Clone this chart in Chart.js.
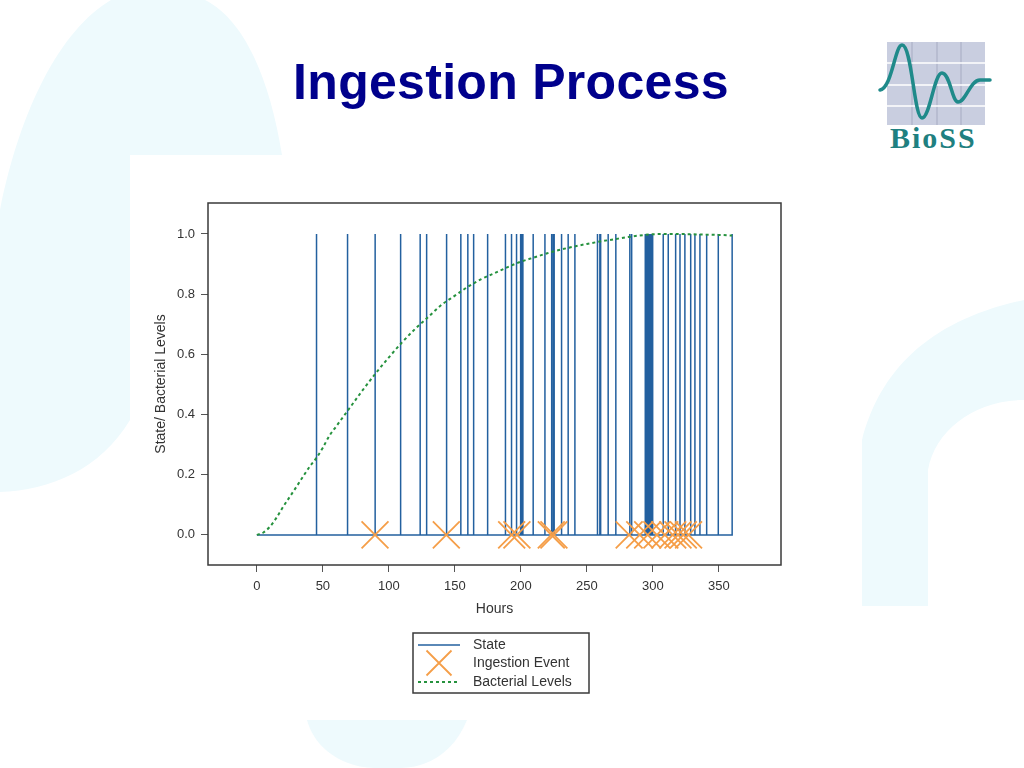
<!DOCTYPE html>
<html>
<head>
<meta charset="utf-8">
<title>Ingestion Process</title>
<script src="https://cdn.jsdelivr.net/npm/chart.js@4.4.0/dist/chart.umd.min.js"></script>
<style>
    html, body { margin: 0; padding: 0; background: #fff; }
    #page { position: relative; width: 1024px; height: 768px; overflow: hidden; }
    #bg, #logo { position: absolute; left: 0; top: 0; }
    h1 {
        position: absolute; left: 0; top: 57px; width: 1022px; margin: 0;
        text-align: center; font: bold 50px/50px "Liberation Sans", Arial, sans-serif;
        letter-spacing: 0.3px; color: #00008c;
    }
    #chart { position: absolute; left: 0; top: 0; }
</style>
</head>
<body>
<div id="page">
    <!-- slide background shapes -->
    <svg id="bg" width="1024" height="768">
        <g fill="#eefafd">
            <path d="M111 0 L205 0 C245 20 270 80 282 155 L130 155 L130 420 C100 470 50 490 0 492 L0 210 C20 110 60 30 111 0 Z"/>
            <path d="M862 606 L862 440 C880 370 930 320 1024 300 L1024 400 C975 400 935 430 928 470 L928 606 Z"/>
            <path d="M307 720 L467 720 C455 750 430 768 400 768 L375 768 C345 768 315 750 307 720 Z"/>
        </g>
    </svg>
    <!-- BioSS logo -->
    <svg id="logo" width="1024" height="768">
        <rect x="887" y="42" width="98" height="83" fill="#c9cee0"/>
        <g stroke="#a6abc2" stroke-width="1">
            <line x1="912" y1="42" x2="912" y2="125"/>
            <line x1="937" y1="42" x2="937" y2="125"/>
            <line x1="961" y1="42" x2="961" y2="125"/>
        </g>
        <g stroke="#ffffff" stroke-width="1.5">
            <line x1="887" y1="63" x2="985" y2="63"/>
            <line x1="887" y1="85" x2="985" y2="85"/>
            <line x1="887" y1="106" x2="985" y2="106"/>
        </g>
        <path d="M880 90 C892 88 895 45 902 45 C912 45 914 118 922 118 C930 118 934 73 942 73 C950 73 952 102 958 102 C966 102 970 80 980 80 L990 80"
              fill="none" stroke="#1f8a8a" stroke-width="3.5" stroke-linecap="round"/>
        <text x="890" y="148" font-family="Liberation Serif, Times New Roman, serif" font-weight="bold"
              font-size="30" letter-spacing="2" fill="#1f8080">BioSS</text>
    </svg>
    <h1>Ingestion Process</h1>
    <canvas id="chart" width="1024" height="768"></canvas>
</div>

<script>
// Axis ticks
const xTickValues = [0, 50, 100, 150, 200, 250, 300, 350];
const yTickValues = [0.0, 0.2, 0.4, 0.6, 0.8, 1.0];

// Hours at which the state switches to 1 (vertical lines)
const stateSwitchHours = [45.2, 68.7, 89.6, 108.9, 123.7, 128.6, 143.3, 144.0, 154.5, 159.8,
    164.2, 174.8, 188.3, 192.9, 196.7, 199.8, 200.8, 201.5, 209.3, 218.2, 223.3, 224.5, 225.2,
    230.8, 235.8, 240.9, 258.0, 259.8, 260.4, 266.1, 271.9, 282.5, 283.9, 294.2, 295.0, 295.8,
    296.6, 297.4, 298.2, 299.0, 299.8, 307.8, 311.6, 317.2, 320.5, 324.2, 328.6, 331.8, 335.6,
    340.7, 349.5, 360.0];
const stateStartHour = 0;
const stateEndHour = 360;

// Ingestion events (crosses on the zero line)
const ingestionHours = [89.5, 143.5, 193, 197, 223, 225, 282, 290, 296, 303, 309, 315, 319, 323, 327];

// Bacterial levels curve
const bacteriaHours = [0, 5, 10, 15, 20, 25, 30, 35, 40, 45, 50, 55, 60, 70, 80, 90, 100, 110,
    120, 130, 140, 150, 160, 170, 180, 190, 200, 210, 220, 230, 240, 250, 260, 270, 280, 290,
    300, 310, 320, 330, 340, 350, 360];
const bacteriaLevels = [0, 0.008, 0.028, 0.058, 0.094, 0.127, 0.16, 0.194, 0.227, 0.255, 0.29,
    0.33, 0.36, 0.42, 0.48, 0.537, 0.59, 0.64, 0.685, 0.725, 0.765, 0.795, 0.825, 0.85, 0.87,
    0.89, 0.908, 0.922, 0.936, 0.948, 0.958, 0.967, 0.975, 0.982, 0.989, 0.995, 0.999, 1.0, 1.0,
    0.999, 0.998, 0.997, 0.995];

const FONT = '"Liberation Sans", Arial, sans-serif';
const STATE_COLOR = '#23609f';
const EVENT_COLOR = 'rgb(245, 158, 72)';
const BACTERIA_COLOR = 'rgb(38, 146, 62)';

/**
 * Build the step-like state path: 0 everywhere, spikes to 1 at each switch
 */
function buildStatePoints() {
    const pts = [{ x: stateStartHour, y: 0 }];
    stateSwitchHours.forEach(h => {
        pts.push({ x: h, y: 0 }, { x: h, y: 1 }, { x: h, y: 0 });
    });
    pts.push({ x: stateEndHour, y: 0 });
    return pts;
}

// Frame around the plot area
const framePlugin = {
    id: 'frame',
    afterDraw(chart) {
        const a = chart.chartArea;
        const ctx = chart.ctx;
        ctx.save();
        ctx.strokeStyle = '#3a3a3a';
        ctx.lineWidth = 1.5;
        ctx.strokeRect(a.left, a.top, a.right - a.left, a.bottom - a.top);
        ctx.restore();
    }
};

// Boxed legend under the chart, like the original figure
const boxLegendPlugin = {
    id: 'boxLegend',
    afterDraw(chart) {
        const ctx = chart.ctx;
        const bx = 413, by = 633, bw = 176, bh = 60;
        ctx.save();
        ctx.fillStyle = '#ffffff';
        ctx.fillRect(bx, by, bw, bh);
        ctx.strokeStyle = '#3a3a3a';
        ctx.lineWidth = 1.5;
        ctx.strokeRect(bx, by, bw, bh);

        const rows = [645, 663, 682];
        chart.data.datasets.forEach((ds, i) => {
            const y = rows[i];
            ctx.strokeStyle = ds.borderColor;
            if (ds.showLine === false) {
                ctx.lineWidth = 1.8;
                ctx.setLineDash([]);
                const r = 12.5;
                ctx.beginPath();
                ctx.moveTo(439 - r, y - r); ctx.lineTo(439 + r, y + r);
                ctx.moveTo(439 + r, y - r); ctx.lineTo(439 - r, y + r);
                ctx.stroke();
            } else {
                ctx.lineWidth = ds.borderWidth;
                ctx.setLineDash(ds.borderDash || []);
                ctx.beginPath();
                ctx.moveTo(418, y); ctx.lineTo(460, y);
                ctx.stroke();
            }
            ctx.setLineDash([]);
            ctx.fillStyle = '#333333';
            ctx.font = '14px ' + FONT;
            ctx.textBaseline = 'middle';
            ctx.fillText(ds.label, 473, y);
        });
        ctx.restore();
    }
};

function initChart() {
    const ctx = document.getElementById('chart').getContext('2d');

    new Chart(ctx, {
        type: 'line',
        data: {
            datasets: [{
                label: 'State',
                data: buildStatePoints(),
                borderColor: STATE_COLOR,
                borderWidth: 1.5,
                pointRadius: 0,
                tension: 0,
                order: 3
            }, {
                label: 'Ingestion Event',
                data: ingestionHours.map(h => ({ x: h, y: 0 })),
                showLine: false,
                borderColor: EVENT_COLOR,
                pointStyle: 'crossRot',
                pointRadius: 19,
                pointBorderWidth: 1.8,
                pointBorderColor: EVENT_COLOR,
                order: 2
            }, {
                label: 'Bacterial Levels',
                data: bacteriaHours.map((h, i) => ({ x: h, y: bacteriaLevels[i] })),
                borderColor: BACTERIA_COLOR,
                borderWidth: 2,
                borderDash: [3, 3],
                pointRadius: 0,
                cubicInterpolationMode: 'monotone',
                order: 1
            }]
        },
        options: {
            responsive: false,
            animation: false,
            devicePixelRatio: 1,
            layout: { padding: { left: 148, right: 243, top: 203, bottom: 143 } },
            plugins: {
                legend: { display: false },
                tooltip: { enabled: false },
                title: { display: false }
            },
            scales: {
                x: {
                    type: 'linear',
                    min: -37,
                    max: 397,
                    afterBuildTicks: scale => { scale.ticks = xTickValues.map(v => ({ value: v })); },
                    afterFit: scale => { scale.height = 60; },
                    grid: { drawOnChartArea: false, tickLength: 7, color: '#555' },
                    border: { display: false },
                    ticks: { font: { family: FONT, size: 13 }, color: '#333', padding: 7, maxRotation: 0 },
                    title: {
                        display: true,
                        text: 'Hours',
                        font: { family: FONT, size: 14 },
                        color: '#333',
                        padding: { top: 0, bottom: 7 }
                    }
                },
                y: {
                    type: 'linear',
                    min: -0.1,
                    max: 1.103,
                    afterBuildTicks: scale => { scale.ticks = yTickValues.map(v => ({ value: v })); },
                    afterFit: scale => { scale.width = 60; },
                    grid: { drawOnChartArea: false, tickLength: 7, color: '#555' },
                    border: { display: false },
                    ticks: {
                        font: { family: FONT, size: 13 },
                        color: '#333',
                        padding: 6,
                        callback: value => Number(value).toFixed(1)
                    },
                    title: {
                        display: true,
                        text: 'State/ Bacterial Levels',
                        font: { family: FONT, size: 14 },
                        color: '#333',
                        padding: { top: 5, bottom: 0 }
                    }
                }
            }
        },
        plugins: [framePlugin, boxLegendPlugin]
    });
}

document.addEventListener('DOMContentLoaded', initChart);
</script>
</body>
</html>
